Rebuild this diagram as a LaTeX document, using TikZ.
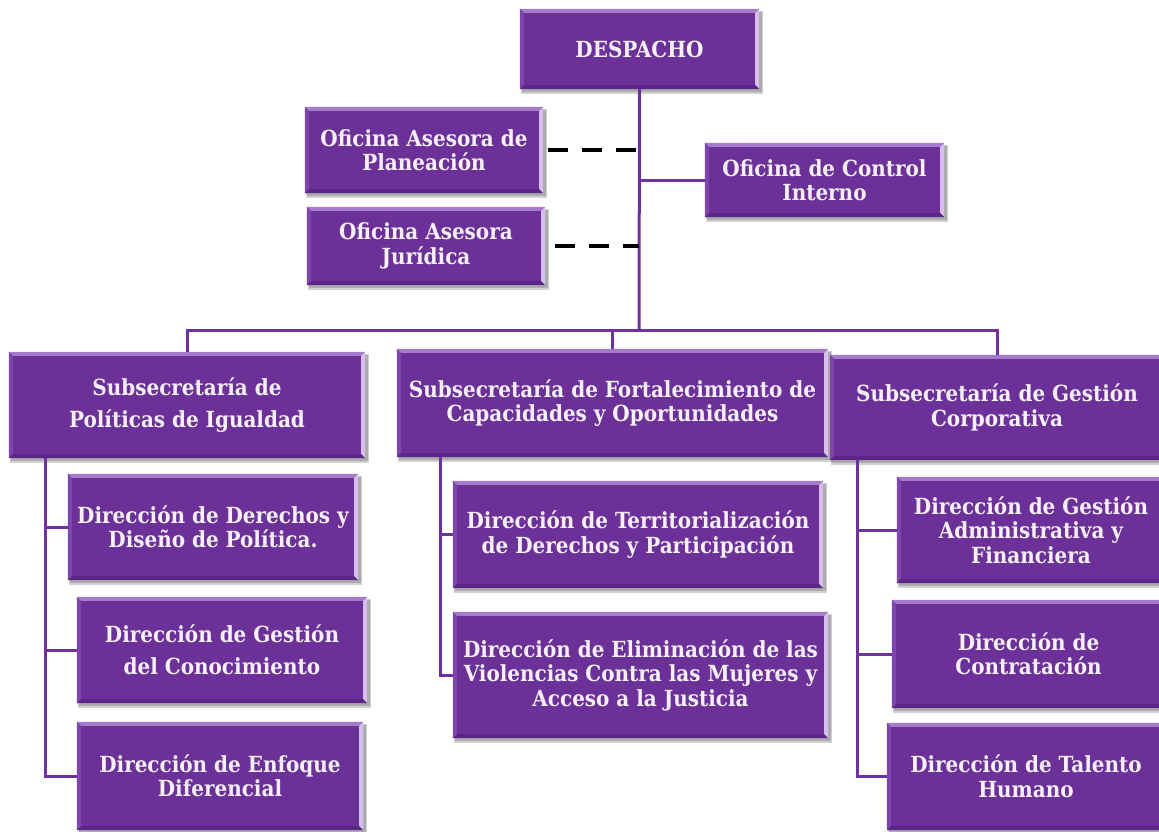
\documentclass[tikz,border=0pt]{standalone}
\usepackage{fontspec}
\setmainfont{DejaVu Serif Condensed}
\definecolor{boxc}{HTML}{6C3199}
\definecolor{bvtop}{HTML}{A47CCB}
\definecolor{bvright}{HTML}{D6BEF0}
\definecolor{bvleft}{HTML}{7E45AE}
\definecolor{bvbot}{HTML}{5A2786}
\definecolor{linec}{HTML}{7030A0}
\definecolor{txtc}{HTML}{F7F0FA}
\tikzset{
  box/.style={fill=boxc, draw=none, text=txtc, align=center, inner sep=0pt,
    font=\bfseries\fontsize{22.2}{24.5}\selectfont},
  conn/.style={draw=linec, line width=3pt},
  dashconn/.style={draw=black, line width=4pt, dash pattern=on 20pt off 14pt},
  shade1/.style={fill=black, opacity=0.18},
}
\newcommand\orgbox[6]{%
  \fill[shade1] (#2+1,#3+2) rectangle (#4+4,#5+5);
  \fill[shade1] (#2+2,#3+3) rectangle (#4+2.5,#5+3);
  \node[box, minimum width={(#4-#2)*1pt}, minimum height={(#5-#3)*1pt}]
    (#1) at ({(#2+#4)/2},{(#3+#5)/2}) {#6};
  \fill[bvtop] (#1.north west) -- (#1.north east) -- ([shift={(-4pt,-4pt)}]#1.north east) -- ([shift={(4pt,-4pt)}]#1.north west) -- cycle;
  \fill[bvright] (#1.north east) -- (#1.south east) -- ([shift={(-4pt,4pt)}]#1.south east) -- ([shift={(-4pt,-4pt)}]#1.north east) -- cycle;
  \fill[bvleft] (#1.north west) -- ([shift={(4pt,-4pt)}]#1.north west) -- ([shift={(4pt,4pt)}]#1.south west) -- (#1.south west) -- cycle;
  \fill[bvbot] (#1.south west) -- ([shift={(4pt,4pt)}]#1.south west) -- ([shift={(-4pt,4pt)}]#1.south east) -- (#1.south east) -- cycle;
}
\begin{document}
\begin{tikzpicture}[x=1pt, y=-1pt]
\useasboundingbox (0,0) rectangle (1159,831);
\clip (0,0) rectangle (1159,831);
\fill[white] (0,0) rectangle (1159,831);

% named points on the connectors
\coordinate (hub) at (639,330);
\coordinate (tp1) at (639,150);
\coordinate (tp2) at (639,246);
\coordinate (tc) at (639,180);
\coordinate (sp1) at (45,458);
\coordinate (sp2) at (440,457);
\coordinate (sp3) at (857,460);

\orgbox{desp}{520}{9}{759}{89}{DESPACHO}
\draw[conn] (desp.south) -- (hub);

\orgbox{plan}{305}{107}{543}{193}{Oficina Asesora de\\Planeación}
\orgbox{jur}{307}{207}{545}{285}{Oficina Asesora\\Jurídica}
\orgbox{ctrl}{705}{143}{944}{217}{Oficina de Control\\Interno}

\draw[dashconn] ([xshift=5pt]plan.east) -- (tp1);
\draw[dashconn] ([xshift=10pt]jur.east) -- (tp2);
\draw[conn] (ctrl.west) -- (tc);

\orgbox{s1}{9}{352}{365}{458}{Subsecretaría de\\[8pt]Políticas de Igualdad}
\orgbox{s2}{397}{349}{828}{457}{Subsecretaría de Fortalecimiento de\\Capacidades y Oportunidades}
\orgbox{s3}{830}{355}{1164}{460}{Subsecretaría de Gestión\\Corporativa}

\draw[conn] (s1.north) |- (hub) -| (s3.north);
\draw[conn] (s2.north) -- (s2.north |- hub);

\orgbox{d1}{68}{474}{358}{580}{Dirección de Derechos y\\Diseño de Política.}
\orgbox{d2}{77}{597}{367}{703}{Dirección de Gestión\\[7pt]del Conocimiento}
\orgbox{d3}{77}{722}{363}{830}{Dirección de Enfoque\\Diferencial}
\draw[conn] (sp1) |- (d1.west);
\draw[conn] (sp1) |- (d2.west);
\draw[conn] (sp1) |- (d3.west);

\orgbox{t1}{453}{481}{823}{588}{Dirección de Territorialización\\de Derechos y Participación}
\orgbox{t2}{453}{612}{828}{738}{Dirección de Eliminación de las\\Violencias Contra las Mujeres y\\Acceso a la Justicia}
\draw[conn] (sp2) |- (t1.west);
\draw[conn] (sp2) |- (t2.west);

\orgbox{g1}{897}{477}{1165}{583}{Dirección de Gestión\\Administrativa y\\Financiera}
\orgbox{g2}{892}{600}{1165}{708}{Dirección de\\Contratación}
\orgbox{g3}{887}{723}{1165}{830}{Dirección de Talento\\Humano}
\draw[conn] (sp3) |- (g1.west);
\draw[conn] (sp3) |- (g2.west);
\draw[conn] (sp3) |- (g3.west);
\end{tikzpicture}
\end{document}
